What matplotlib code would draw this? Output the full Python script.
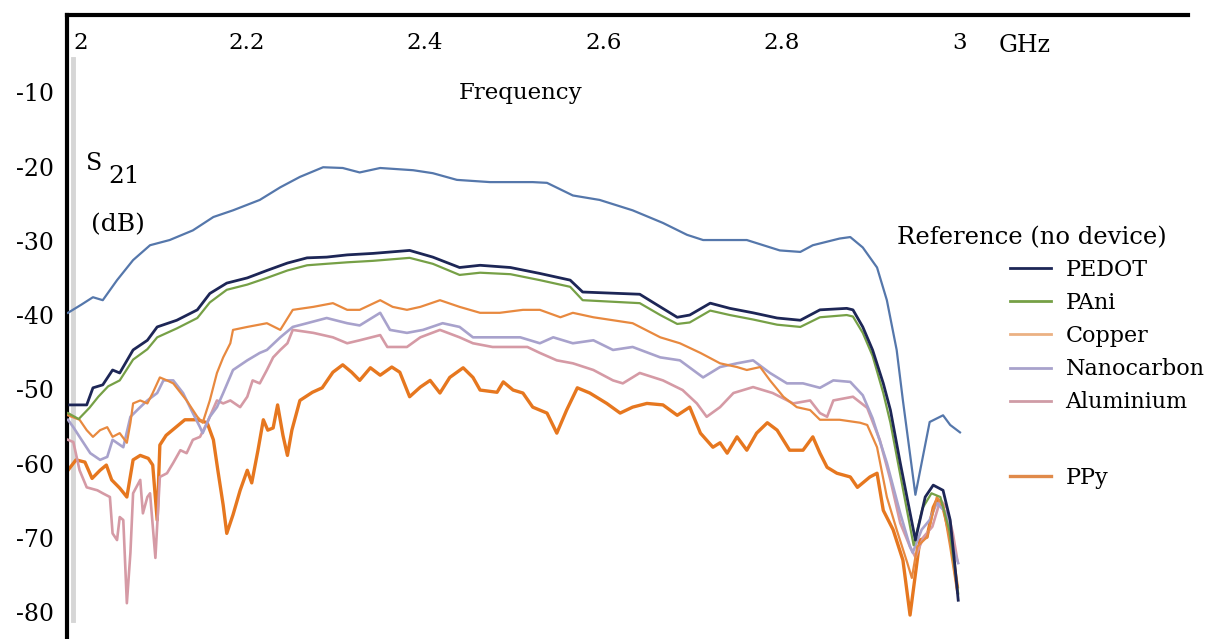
import matplotlib
matplotlib.use("Agg")
import matplotlib.pyplot as plt
import matplotlib.transforms as mtransforms

plt.rcParams['font.family'] = ['DejaVu Serif']

# Transmission S21 (dB) versus frequency (GHz)
ref_f = [2.000, 2.015, 2.028, 2.039, 2.055, 2.073, 2.092, 2.114, 2.140, 2.163,
         2.185, 2.215, 2.238, 2.260, 2.286, 2.308, 2.327, 2.350, 2.387, 2.409,
         2.436, 2.473, 2.521, 2.537, 2.566, 2.596, 2.633, 2.667, 2.694, 2.712,
         2.761, 2.798, 2.821, 2.835, 2.865, 2.877, 2.891, 2.907, 2.918, 2.929,
         2.936, 2.950, 2.966, 2.981, 2.989, 3.000]
ref_db = [-39.7, -38.6, -37.6, -38.0, -35.3, -32.6, -30.6, -29.9, -28.6, -26.8,
          -25.9, -24.5, -22.8, -21.4, -20.1, -20.2, -20.8, -20.2, -20.5, -20.9,
          -21.8, -22.1, -22.1, -22.2, -23.9, -24.5, -25.9, -27.6, -29.2, -29.9,
          -29.9, -31.3, -31.5, -30.6, -29.7, -29.5, -30.9, -33.6, -38.0, -44.7,
          -51.5, -64.2, -54.4, -53.5, -54.8, -55.8]

pedot_f = [2.002, 2.021, 2.028, 2.039, 2.050, 2.058, 2.073, 2.089, 2.100, 2.122,
           2.145, 2.159, 2.178, 2.201, 2.223, 2.246, 2.268, 2.290, 2.313, 2.342,
           2.383, 2.409, 2.439, 2.462, 2.496, 2.529, 2.563, 2.577, 2.641, 2.664,
           2.683, 2.697, 2.720, 2.742, 2.768, 2.795, 2.821, 2.843, 2.873, 2.880,
           2.891, 2.902, 2.914, 2.922, 2.933, 2.950, 2.961, 2.970, 2.981, 2.989,
           2.994, 2.998]
pedot_db = [-52.1, -52.1, -49.8, -49.4, -47.4, -47.8, -44.7, -43.4, -41.6, -40.7,
            -39.3, -37.1, -35.7, -35.0, -34.0, -33.0, -32.3, -32.2, -31.9, -31.7,
            -31.3, -32.2, -33.6, -33.3, -33.6, -34.4, -35.3, -36.9, -37.2, -38.9,
            -40.3, -40.0, -38.4, -39.1, -39.7, -40.4, -40.7, -39.3, -39.1, -39.3,
            -41.6, -44.7, -49.2, -52.8, -59.9, -70.3, -64.5, -62.9, -63.6, -67.6,
            -73.4, -78.4]

pani_f = [2.000, 2.012, 2.024, 2.034, 2.045, 2.058, 2.073, 2.089, 2.100, 2.122,
          2.145, 2.159, 2.178, 2.201, 2.223, 2.246, 2.268, 2.290, 2.313, 2.342,
          2.383, 2.409, 2.439, 2.462, 2.496, 2.529, 2.563, 2.577, 2.641, 2.664,
          2.683, 2.697, 2.720, 2.742, 2.768, 2.795, 2.821, 2.843, 2.873, 2.880,
          2.891, 2.902, 2.914, 2.922, 2.933, 2.948, 2.958, 2.968, 2.978, 2.988,
          2.994, 2.998]
pani_db = [-53.2, -54.0, -52.5, -51.0, -49.6, -48.8, -46.0, -44.6, -43.0, -41.8,
           -40.4, -38.3, -36.6, -35.9, -35.0, -34.0, -33.3, -33.1, -32.9, -32.7,
           -32.3, -33.1, -34.6, -34.3, -34.5, -35.3, -36.2, -38.0, -38.4, -40.0,
           -41.2, -41.0, -39.4, -40.0, -40.6, -41.3, -41.6, -40.3, -40.0, -40.2,
           -42.4, -45.5, -50.5, -54.5, -61.5, -71.0, -66.0, -64.0, -64.5, -69.0,
           -74.0, -77.5]

copper_f = [2.000, 2.013, 2.021, 2.028, 2.036, 2.044, 2.050, 2.058, 2.066, 2.070,
            2.073, 2.081, 2.089, 2.095, 2.103, 2.111, 2.118, 2.133, 2.145, 2.151,
            2.159, 2.167, 2.174, 2.182, 2.185, 2.201, 2.223, 2.238, 2.252, 2.275,
            2.297, 2.313, 2.327, 2.350, 2.364, 2.380, 2.395, 2.417, 2.439, 2.462,
            2.484, 2.510, 2.529, 2.552, 2.566, 2.589, 2.611, 2.633, 2.664, 2.686,
            2.709, 2.731, 2.750, 2.761, 2.776, 2.787, 2.802, 2.817, 2.832, 2.843,
            2.865, 2.888, 2.896, 2.907, 2.918, 2.929, 2.941, 2.946, 2.952, 2.963,
            2.974, 2.981, 2.989, 2.997]
copper_db = [-53.5, -54.1, -55.5, -56.4, -55.5, -55.1, -56.4, -55.9, -57.2, -54.5,
             -51.9, -51.5, -51.9, -50.5, -48.4, -48.8, -49.2, -51.5, -53.7, -54.5,
             -51.5, -47.8, -45.7, -43.8, -42.0, -41.6, -41.1, -42.0, -39.3, -38.9,
             -38.4, -39.3, -39.3, -38.0, -38.9, -39.3, -38.9, -38.0, -38.9, -39.7,
             -39.7, -39.3, -39.3, -40.3, -39.7, -40.3, -40.7, -41.1, -43.0, -43.8,
             -45.1, -46.5, -47.0, -47.4, -47.0, -48.8, -51.0, -52.4, -52.8, -54.1,
             -54.1, -54.5, -54.8, -57.8, -64.5, -68.9, -73.4, -75.4, -71.2, -69.9,
             -64.5, -65.6, -71.2, -77.4]

nano_f = [2.000, 2.006, 2.013, 2.025, 2.036, 2.044, 2.050, 2.062, 2.070, 2.081,
          2.089, 2.100, 2.107, 2.118, 2.129, 2.140, 2.148, 2.151, 2.159, 2.167,
          2.174, 2.185, 2.201, 2.215, 2.223, 2.238, 2.252, 2.268, 2.290, 2.313,
          2.327, 2.350, 2.361, 2.380, 2.398, 2.420, 2.439, 2.454, 2.476, 2.507,
          2.529, 2.544, 2.566, 2.589, 2.611, 2.633, 2.664, 2.686, 2.712, 2.731,
          2.750, 2.768, 2.787, 2.806, 2.824, 2.843, 2.858, 2.877, 2.891, 2.902,
          2.918, 2.933, 2.944, 2.947, 2.957, 2.966, 2.974, 2.985, 2.992, 2.998]
nano_db = [-54.1, -55.1, -56.4, -58.6, -59.5, -59.1, -56.8, -57.8, -53.7, -52.4,
           -51.5, -50.5, -48.8, -48.8, -50.5, -53.2, -55.1, -55.9, -53.7, -52.4,
           -50.5, -47.4, -46.1, -45.1, -44.7, -43.0, -41.6, -41.1, -40.4, -41.1,
           -41.4, -39.7, -42.0, -42.4, -42.0, -41.1, -41.6, -43.0, -43.0, -43.0,
           -43.8, -43.0, -43.8, -43.4, -44.7, -44.3, -45.7, -46.1, -48.4, -47.0,
           -46.5, -46.1, -47.8, -49.2, -49.2, -49.8, -48.8, -49.0, -50.8, -53.9,
           -59.9, -66.7, -71.2, -72.0, -68.9, -67.6, -65.3, -66.7, -71.2, -73.4]

alu_f = [2.000, 2.006, 2.013, 2.021, 2.033, 2.039, 2.047, 2.050, 2.055, 2.058,
         2.062, 2.066, 2.070, 2.073, 2.081, 2.084, 2.089, 2.092, 2.098, 2.103,
         2.111, 2.118, 2.126, 2.133, 2.140, 2.148, 2.156, 2.167, 2.174, 2.182,
         2.193, 2.201, 2.207, 2.215, 2.223, 2.230, 2.238, 2.246, 2.252, 2.275,
         2.297, 2.313, 2.327, 2.350, 2.358, 2.380, 2.395, 2.417, 2.439, 2.454,
         2.476, 2.515, 2.529, 2.548, 2.566, 2.589, 2.611, 2.622, 2.641, 2.667,
         2.689, 2.705, 2.716, 2.731, 2.746, 2.768, 2.790, 2.813, 2.832, 2.843,
         2.851, 2.858, 2.880, 2.896, 2.910, 2.922, 2.933, 2.944, 2.950, 2.959,
         2.969, 2.978, 2.985, 2.992, 2.997]
alu_db = [-56.8, -57.1, -60.9, -63.2, -63.6, -64.0, -64.5, -69.4, -70.3, -67.2,
          -67.6, -78.8, -72.0, -64.0, -62.2, -66.7, -64.5, -64.0, -72.7, -61.8,
          -61.3, -59.9, -58.2, -58.6, -56.8, -56.4, -54.5, -51.5, -51.9, -51.5,
          -52.4, -51.0, -48.8, -49.2, -47.4, -45.7, -44.7, -43.8, -42.0, -42.4,
          -43.0, -43.8, -43.4, -42.7, -44.3, -44.3, -43.0, -42.0, -43.0, -43.8,
          -44.3, -44.3, -45.1, -46.1, -46.5, -47.4, -48.8, -49.2, -47.8, -48.8,
          -50.1, -51.9, -53.7, -52.4, -50.5, -49.7, -50.5, -51.9, -51.5, -53.2,
          -53.7, -51.5, -51.0, -52.5, -56.8, -62.2, -68.0, -71.2, -72.6, -69.9,
          -68.5, -64.9, -65.9, -69.4, -73.0]

ppy_f = [2.000, 2.009, 2.019, 2.027, 2.036, 2.043, 2.049, 2.058, 2.066, 2.073,
         2.081, 2.090, 2.095, 2.100, 2.103, 2.110, 2.120, 2.131, 2.145, 2.156,
         2.163, 2.168, 2.174, 2.178, 2.185, 2.193, 2.201, 2.206, 2.213, 2.219,
         2.224, 2.230, 2.235, 2.241, 2.246, 2.251, 2.260, 2.274, 2.285, 2.297,
         2.308, 2.318, 2.327, 2.339, 2.350, 2.363, 2.372, 2.383, 2.395, 2.406,
         2.417, 2.428, 2.443, 2.454, 2.462, 2.481, 2.488, 2.499, 2.510, 2.521,
         2.537, 2.548, 2.559, 2.571, 2.585, 2.604, 2.619, 2.633, 2.649, 2.667,
         2.683, 2.697, 2.709, 2.723, 2.731, 2.739, 2.750, 2.761, 2.772, 2.784,
         2.795, 2.809, 2.824, 2.835, 2.843, 2.851, 2.862, 2.877, 2.885, 2.899,
         2.907, 2.914, 2.925, 2.936, 2.944, 2.955, 2.963, 2.970, 2.974, 2.981,
         2.989, 2.997]
ppy_db = [-60.9, -59.5, -59.8, -62.0, -60.9, -60.2, -62.2, -63.3, -64.5, -59.5,
          -58.9, -59.3, -60.2, -67.6, -57.5, -56.2, -55.2, -54.1, -54.1, -54.5,
          -56.8, -60.9, -65.6, -69.4, -66.9, -63.6, -60.9, -62.6, -58.2, -54.1,
          -55.5, -55.2, -52.1, -56.2, -58.9, -55.5, -51.5, -50.4, -49.8, -47.7,
          -46.7, -47.7, -48.8, -47.1, -48.1, -47.0, -47.7, -51.0, -49.7, -48.8,
          -50.5, -48.4, -47.1, -48.4, -50.1, -50.4, -49.0, -50.1, -50.5, -52.4,
          -53.2, -55.9, -52.8, -49.8, -50.5, -51.9, -53.2, -52.4, -51.9, -52.1,
          -53.5, -52.4, -55.9, -57.8, -57.2, -58.6, -56.4, -58.2, -55.9, -54.5,
          -55.5, -58.2, -58.2, -56.4, -58.6, -60.5, -61.3, -61.8, -63.2, -61.8,
          -61.3, -66.3, -68.9, -73.0, -80.4, -70.3, -69.9, -65.9, -64.9, -65.9,
          -69.9, -76.6]

x_ticks = [2.0, 2.2, 2.4, 2.6, 2.8, 3.0]
x_tick_labels = ['2', '2.2', '2.4', '2.6', '2.8', '3']
y_ticks = [-10, -20, -30, -40, -50, -60, -70, -80]
y_tick_labels = ['-10', '-20', '-30', '-40', '-50', '-60', '-70', '-80']

fig = plt.figure(figsize=(12.10, 6.39), dpi=100)
ax = fig.add_axes([67 / 1210, 0.0, 1121 / 1210, 624 / 639])
ax.set_xlim(1.9989, 3.2556)
ax.set_ylim(-83.62, 0.40)

# curves
ax.plot(ppy_f, ppy_db, color='#e6771f', lw=2.4, zorder=2)
ax.plot(alu_f, alu_db, color='#d59aa5', lw=1.9, zorder=3)
ax.plot(nano_f, nano_db, color='#a8a2cc', lw=1.9, zorder=3)
ax.plot(copper_f, copper_db, color='#e8893f', lw=1.6, zorder=4)
ax.plot(pani_f, pani_db, color='#76a046', lw=1.6, zorder=5)
ax.plot(pedot_f, pedot_db, color='#1d2656', lw=2.0, zorder=6)
ax.plot(ref_f, ref_db, color='#5577ab', lw=1.6, zorder=7)

# axes frame: heavy top and left lines only
for side in ('bottom', 'right'):
    ax.spines[side].set_visible(False)
for side in ('top', 'left'):
    ax.spines[side].set_linewidth(3.0)
    ax.spines[side].set_color('black')
ax.axvline(2.0055, ymin=0.03, ymax=0.93, color='#d6d6d6', lw=3.5, zorder=1)

ax.xaxis.set_ticks_position('top')
ax.set_xticks(x_ticks)
ax.set_xticklabels(x_tick_labels)
ax.tick_params(axis='x', length=0, labelsize=16.5, pad=-28)
ax.set_yticks(y_ticks)
ax.set_yticklabels(y_tick_labels)
ax.tick_params(axis='y', length=0, labelsize=17, pad=9.5)
first = ax.xaxis.get_major_ticks()[0].label2
first.set_horizontalalignment('left')
first.set_transform(first.get_transform() +
                    mtransforms.ScaledTranslation(5 / 100, 0, fig.dpi_scale_trans))

ax.text(3.072, -3.7, 'GHz', fontsize=17, ha='center', va='center')
ax.text(2.507, -10.1, 'Frequency', fontsize=16.5, ha='center', va='center')
ax.text(2.029, -19.6, 'S', fontsize=17, ha='center', va='center')
ax.text(2.0625, -21.3, '21', fontsize=18, ha='center', va='center')
ax.text(2.0565, -27.9, '(dB)', fontsize=18, ha='center', va='center')

ax.text(2.9294, -29.65, 'Reference (no device)', fontsize=17.5, ha='left', va='center')

legend_style = dict(frameon=False, fontsize=16, handlelength=1.85,
                    handletextpad=0.65, borderpad=0.0, borderaxespad=0.0,
                    loc='upper left', bbox_transform=fig.transFigure)
h_pedot, = ax.plot([], [], color='#1d2656', lw=2.0)
h_pani, = ax.plot([], [], color='#76a046', lw=2.0)
h_copper, = ax.plot([], [], color='#ebb183', lw=2.0)
h_nano, = ax.plot([], [], color='#a8a2cc', lw=2.0)
h_alu, = ax.plot([], [], color='#cf9ca6', lw=2.0)
h_ppy, = ax.plot([], [], color='#e08a4a', lw=2.4)
leg1 = ax.legend([h_pedot, h_pani, h_copper, h_nano, h_alu],
                 ['PEDOT', 'PAni', 'Copper', 'Nanocarbon', 'Aluminium'],
                 labelspacing=0.5,
                 bbox_to_anchor=(1010 / 1210, 1 - 259 / 639), **legend_style)
ax.add_artist(leg1)
ax.legend([h_ppy], ['PPy'],
          bbox_to_anchor=(1010 / 1210, 1 - 467 / 639), **legend_style)

fig.savefig('out.png', dpi=100)
